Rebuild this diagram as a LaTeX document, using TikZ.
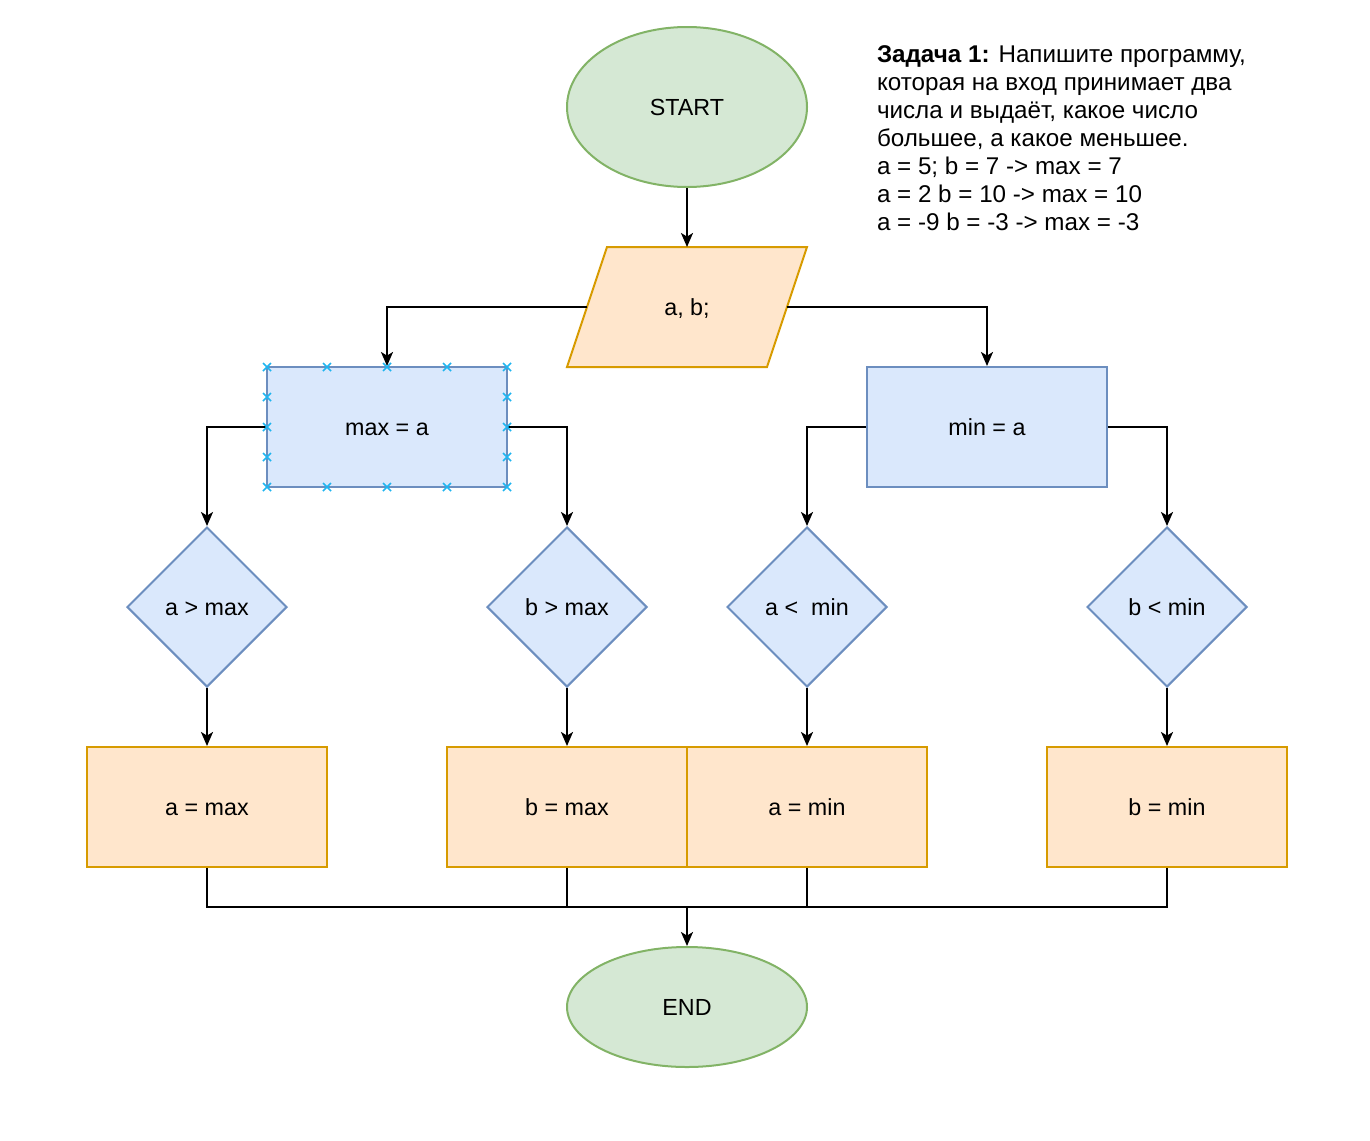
\documentclass[tikz,border=0pt]{standalone}
\usepackage{fontspec}
\setmainfont{Liberation Sans}
\usetikzlibrary{shapes.geometric,arrows.meta}
\definecolor{termfill}{HTML}{D5E8D4}
\definecolor{termline}{HTML}{82B366}
\definecolor{procfill}{HTML}{DAE8FC}
\definecolor{procline}{HTML}{6C8EBF}
\definecolor{iofill}{HTML}{FFE6CC}
\definecolor{ioline}{HTML}{D79B00}
\definecolor{handlecol}{HTML}{1FB5F0}
\begin{document}
\begin{tikzpicture}[x=0.5pt,y=-0.5pt,line width=1pt,
        font=\fontsize{11.65}{14}\selectfont,
        label text/.style={text height=9pt, text depth=1pt},
        terminal/.style={ellipse, draw=termline, fill=termfill, minimum width=120pt, inner sep=0pt, label text},
        process/.style={rectangle, draw=procline, fill=procfill, minimum width=120pt, minimum height=60pt, label text},
        decision/.style={diamond, draw=procline, fill=procfill, minimum width=80pt, minimum height=80pt, inner sep=0pt, label text},
        assign/.style={rectangle, draw=ioline, fill=iofill, minimum width=120pt, minimum height=60pt, label text},
        flow/.style={-{Stealth[length=7pt,width=6pt,inset=1.8pt]}},
        handle/.style={draw=handlecol, line width=0.8pt}]
        \useasboundingbox (0,0) rectangle (1370,1140);
        \node[terminal, minimum height=80pt] (start) at (687,107) {START};
        \filldraw[draw=ioline, fill=iofill] (607,247) -- (807,247) -- (767,367) -- (567,367) -- cycle;
        \node[minimum width=100pt, minimum height=60pt, inner sep=0pt, outer sep=0pt, label text] (input) at (687,307) {a, b;};
        \node[process] (maxa) at (387,427) {max = a};
        \node[process] (mina) at (987,427) {min = a};
        \node[decision] (agt) at (207,607) {a > max};
        \node[decision] (bgt) at (567,607) {b > max};
        \node[decision] (alt) at (807,607) {a <~ min};
        \node[decision] (blt) at (1167,607) {b < min};
        \node[assign] (amax) at (207,807) {a = max};
        \node[assign] (bmax) at (567,807) {b = max};
        \node[assign] (amin) at (807,807) {a = min};
        \node[assign] (bmin) at (1167,807) {b = min};
        \node[terminal, minimum height=60pt] (end) at (687,1007) {END};
        \node[anchor=north west, inner sep=0pt, align=left, font=\fontsize{12.1}{14}\selectfont] (task) at (876,45) {\textbf{Задача 1:} Напишите программу,\\которая на вход принимает два\\числа и выдаёт, какое число\\большее, а какое меньшее.\\a = 5; b = 7 -> max = 7\\a = 2 b = 10 -> max = 10\\a = -9 b = -3 -> max = -3};
        \coordinate (join) at (687,907);
        \draw[flow] (start) -- (input);
        \draw[flow] (input.west) -| (maxa.north);
        \draw[flow] (input.east) -| (mina.north);
        \draw[flow] (maxa.west) -| (agt.north);
        \draw[flow] (maxa.east) -| (bgt.north);
        \draw[flow] (mina.west) -| (alt.north);
        \draw[flow] (mina.east) -| (blt.north);
        \draw[flow] (agt) -- (amax);
        \draw[flow] (bgt) -- (bmax);
        \draw[flow] (alt) -- (amin);
        \draw[flow] (blt) -- (bmin);
        \draw (amax.south) |- (join);
        \draw (bmax.south) |- (join);
        \draw (amin.south) |- (join);
        \draw (bmin.south) |- (join);
        \draw[flow] (join) -- (end);
        % selection handles
        \foreach \hx in {267,327,387,447,507}
            \foreach \hy in {367,487}
                \draw[handle] (\hx-4,\hy-4) -- (\hx+4,\hy+4) (\hx-4,\hy+4) -- (\hx+4,\hy-4);
        \foreach \hx in {267,507}
            \foreach \hy in {397,427,457}
                \draw[handle] (\hx-4,\hy-4) -- (\hx+4,\hy+4) (\hx-4,\hy+4) -- (\hx+4,\hy-4);
    \end{tikzpicture}
\end{document}
